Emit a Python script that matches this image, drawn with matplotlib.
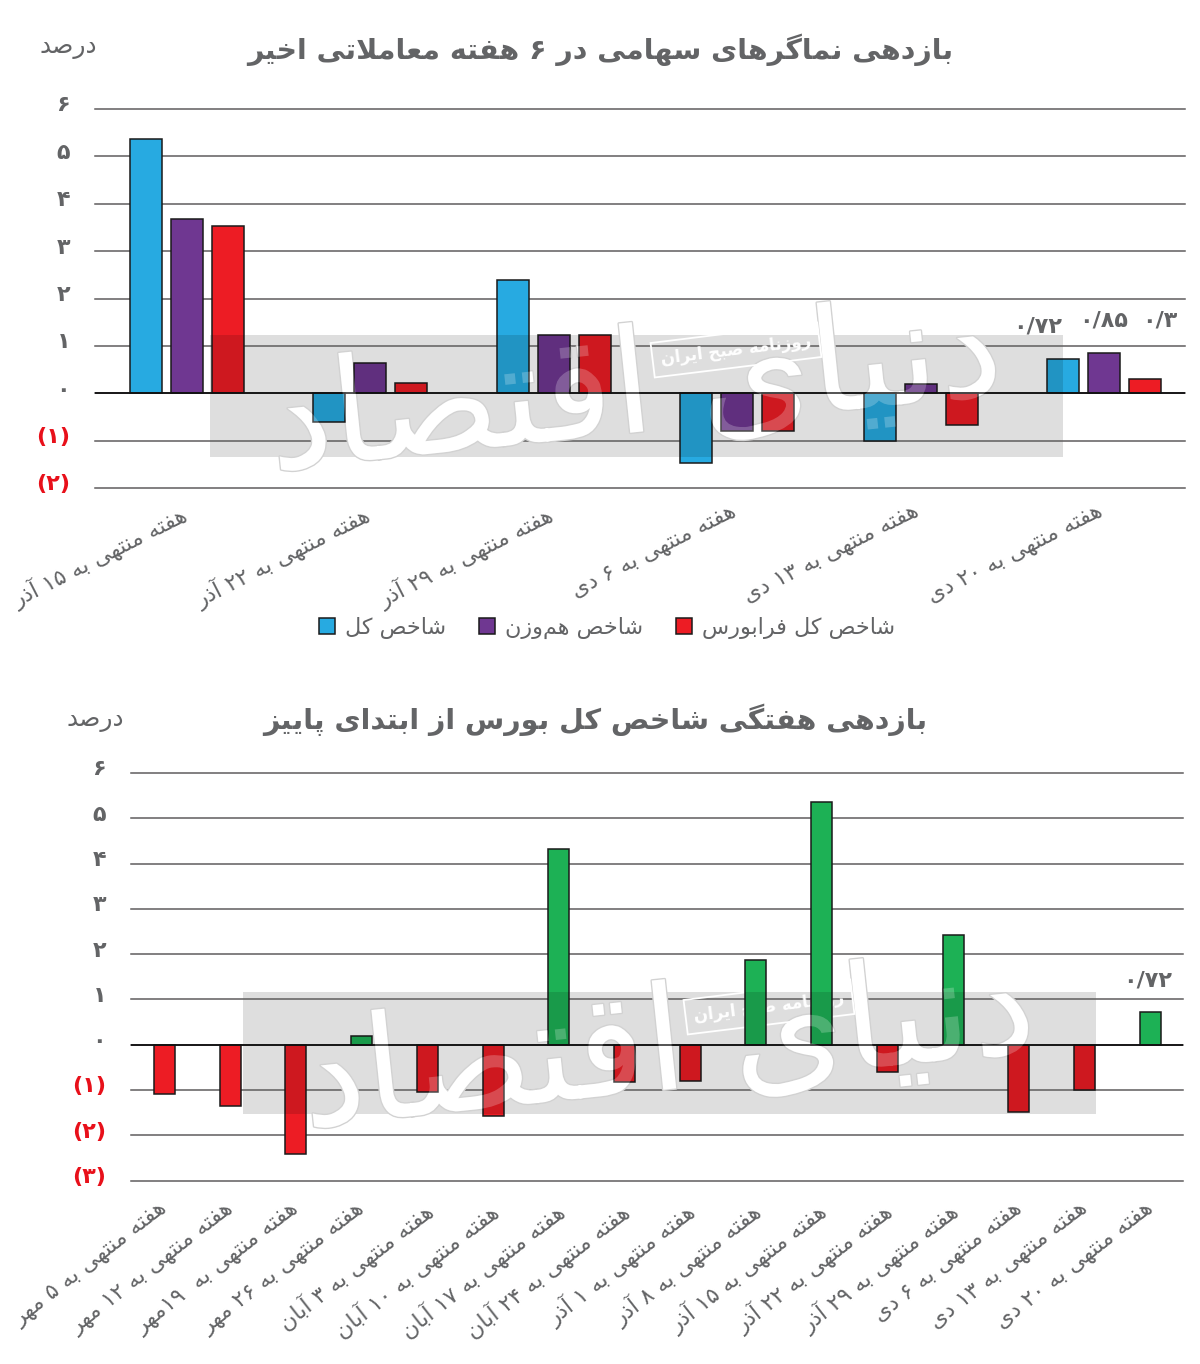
import re
import matplotlib
matplotlib.use('Agg')
import matplotlib.pyplot as plt
import matplotlib.patheffects as pe
from matplotlib.patches import Rectangle
from matplotlib.path import Path
from matplotlib.transforms import Affine2D, ScaledTranslation

W, H = 1200, 1364

# data
title_top = 'بازدهی نماگرهای سهامی در ۶ هفته معاملاتی اخیر'
title_bottom = 'بازدهی هفتگی شاخص کل بورس از ابتدای پاییز'
unit_label = 'درصد'
weeks_top = ['۱۵ آذر', '۲۲ آذر', '۲۹ آذر', '۶ دی', '۱۳ دی', '۲۰ دی']
total_index = [5.36, -0.61, 2.40, -1.48, -1.00, 0.72]
equal_index = [3.68, 0.63, 1.22, -0.80, 0.19, 0.85]
farabourse_index = [3.54, 0.21, 1.22, -0.80, -0.66, 0.30]
series_names = ['شاخص کل', 'شاخص هم\u200cوزن', 'شاخص کل فرابورس']
top_value_labels = ['۰/۷۲', '۰/۸۵', '۰/۳']

weeks_bottom = ['۵ مهر', '۱۲ مهر', ' ۱۹مهر', '۲۶ مهر', '۳ آبان', '۱۰ آبان', '۱۷ آبان', '۲۴ آبان',
                '۱ آذر', '۸ آذر', '۱۵ آذر', '۲۲ آذر', '۲۹ آذر', '۶ دی', '۱۳ دی', '۲۰ دی']
weekly_returns = [-1.10, -1.36, -2.42, 0.19, -1.05, -1.58, 4.32, -0.83,
                  -0.81, 1.87, 5.36, -0.60, 2.42, -1.49, -1.00, 0.72]
bottom_value_label = '۰/۷۲'

ticks_top = [-2, -1, 0, 1, 2, 3, 4, 5, 6]
ticks_bottom = [-3, -2, -1, 0, 1, 2, 3, 4, 5, 6]
tick_names = {-3: '(۳)', -2: '(۲)', -1: '(۱)', 0: '۰', 1: '۱', 2: '۲', 3: '۳', 4: '۴', 5: '۵', 6: '۶'}

GRAY = '#636466'
BLUE = '#27aae1'
PURPLE = '#6f3791'
RED = '#ed1c24'
GREEN = '#1db155'
TICK_RED = '#e8101a'

# matplotlib has no Arabic shaping, so pick the presentation forms by hand
DUAL = {'ب': 0xFE8F, 'پ': 0xFB56, 'ت': 0xFE95, 'ج': 0xFE9D, 'چ': 0xFB7A, 'ح': 0xFEA1, 'خ': 0xFEA5,
        'س': 0xFEB1, 'ش': 0xFEB5, 'ص': 0xFEB9, 'ع': 0xFEC9, 'ف': 0xFED1, 'ق': 0xFED5, 'ک': 0xFB8E,
        'گ': 0xFB92, 'ل': 0xFEDD, 'م': 0xFEE1, 'ن': 0xFEE5, 'ه': 0xFEE9, 'ی': 0xFBFC}
RIGHT = {'ا': 0xFE8D, 'آ': 0xFE81, 'د': 0xFEA9, 'ذ': 0xFEAB, 'ر': 0xFEAD, 'ز': 0xFEAF, 'و': 0xFEED}


def fa(text):
    out = []
    i = 0
    while i < len(text):
        c = text[i]
        prev = text[i - 1] if i > 0 else ''
        nxt = text[i + 1] if i + 1 < len(text) else ''
        joined_prev = prev in DUAL
        if c == 'ل' and nxt == 'ا':
            out.append(chr(0xFEFC if joined_prev else 0xFEFB))
            i += 2
            continue
        if c == '\u200c':
            i += 1
            continue
        if c in DUAL:
            joins_next = nxt in DUAL or nxt in RIGHT
            form = {(False, False): 0, (True, False): 1, (False, True): 2, (True, True): 3}[(joined_prev, joins_next)]
            out.append(chr(DUAL[c] + form))
        elif c in RIGHT:
            out.append(chr(RIGHT[c] + (1 if joined_prev else 0)))
        else:
            out.append(c)
        i += 1
    parts = re.findall(r'[۰-۹]+|.', ''.join(out))
    return ''.join(reversed(parts))


plt.rcParams['font.family'] = ['DejaVu Sans']
fig = plt.figure(figsize=(W / 100, H / 100), dpi=100)
# image pixels, y going down
px = Affine2D().scale(1, -1).translate(0, H)


def make_axes(left, right, top, bottom, ticks, xlim):
    ax = fig.add_axes([left / W, 1 - bottom / H, (right - left) / W, (bottom - top) / H])
    ax.set_ylim(ticks[0], ticks[-1])
    ax.set_xlim(*xlim)
    for s in ax.spines.values():
        s.set_visible(False)
    ax.set_axisbelow(True)
    ax.grid(axis='y', color='#5f5d5e', lw=1.1)
    for g in ax.get_ygridlines():
        g.set_clip_on(False)
    ax.axhline(0, color='#111111', lw=1.3, zorder=2.5)
    ax.set_yticks(ticks)
    ax.set_yticklabels([tick_names[t] for t in ticks], fontsize=16, fontweight='bold')
    ax.tick_params(axis='y', length=0, pad=18)
    ax.tick_params(axis='x', length=0)
    shift = ScaledTranslation(0, 4 / 72, fig.dpi_scale_trans)
    for t, lab in zip(ticks, ax.get_yticklabels()):
        lab.set_color(TICK_RED if t < 0 else GRAY)
        lab.set_transform(lab.get_transform() + shift)
    return ax


def shift_xlabels(ax, dx):
    shift = ScaledTranslation(dx / 100, 0, fig.dpi_scale_trans)
    for lab in ax.get_xticklabels():
        lab.set_transform(lab.get_transform() + shift)


def watermark(ax, bars, dx, dy):
    clip = Path.make_compound_path(*[b.get_path().transformed(b.get_patch_transform()) for b in bars])
    rect_args = dict(transform=px, clip_on=False, facecolor='black', edgecolor='none', alpha=0.13)
    ax.add_patch(Rectangle((210 + dx, 335 + dy), 853, 122, zorder=0.4, **rect_args))
    shade = Rectangle((210 + dx, 335 + dy), 853, 122, zorder=3, transform=px, facecolor='black',
                      edgecolor='none', alpha=0.13)
    ax.add_patch(shade)
    shade.set_clip_path(clip, ax.transData)
    name = fa('دنیای اقتصاد')
    opts = dict(transform=px, ha='center', va='center', rotation=6, fontsize=104)
    ax.text(635 + dx, 392 + dy, name, color='white', zorder=0.6, clip_on=False,
            path_effects=[pe.withStroke(linewidth=2, foreground='#d2d2d2')], **opts)
    over = ax.text(635 + dx, 392 + dy, name, color='white', alpha=0.22, zorder=3.1,
                   path_effects=[pe.Normal()], **opts)
    over.set_clip_path(clip, ax.transData)
    ax.text(736 + dx, 350 + dy, fa('روزنامه صبح ایران'), transform=px, ha='center', va='center', rotation=7,
            fontsize=12, fontweight='bold', color='white', zorder=0.7,
            bbox=dict(boxstyle='square,pad=0.5', facecolor='none', edgecolor='white', lw=1.3))


# top chart
ax1 = make_axes(95, 1185, 109, 488, ticks_top, (-0.5016, 5.4417))
x1 = list(range(len(weeks_top)))
step = 0.2236
bar_w = 0.1745
bars1 = []
series = [total_index, equal_index, farabourse_index]
for k, (vals, col, name) in enumerate(zip(series, [BLUE, PURPLE, RED], series_names)):
    bc = ax1.bar([x + (k - 1) * step for x in x1], vals, width=bar_w, color=col, edgecolor='#1a1a1a',
                 linewidth=1.1, zorder=2, label=fa(name))
    bars1 += list(bc)
watermark(ax1, bars1, 0, 0)
ax1.set_xticks(x1)
ax1.set_xticklabels([fa('هفته منتهی به ' + w) for w in weeks_top], rotation=27, ha='right', va='top',
                    rotation_mode='anchor', fontsize=16, color=GRAY)
ax1.tick_params(axis='x', pad=10)
shift_xlabels(ax1, -7)
leg = ax1.legend(ncols=3, frameon=False, loc='center', bbox_to_anchor=(607, 628), bbox_transform=px,
                 fontsize=16, labelcolor=GRAY, handlelength=0.7, handleheight=0.7, handletextpad=0.45,
                 columnspacing=1.5, borderpad=0, borderaxespad=0)

ax1.text(600, 50, fa(title_top), transform=px, ha='center', va='center', fontsize=20.5, fontweight='bold', color=GRAY)
ax1.text(68, 47, fa(unit_label), transform=px, ha='center', va='center', fontsize=18, color=GRAY)
for xp, yp, lab in zip([1038, 1104, 1160], [327, 320, 321], top_value_labels):
    ax1.text(xp, yp, lab, transform=px, ha='center', va='center', fontsize=16, color=GRAY, fontweight='bold')

# bottom chart
ax2 = make_axes(131, 1183, 773, 1180.5, ticks_bottom, (-0.51, 15.50))
x2 = list(range(len(weeks_bottom)))
colors2 = [GREEN if v > 0 else RED for v in weekly_returns]
bars2 = ax2.bar(x2, weekly_returns, width=0.32, color=colors2, edgecolor='#1a1a1a', linewidth=1.1, zorder=2)
watermark(ax2, list(bars2), 33, 657)
ax2.set_xticks(x2)
ax2.set_xticklabels([fa('هفته منتهی به ' + w) for w in weeks_bottom], rotation=38, ha='right', va='top',
                    rotation_mode='anchor', fontsize=16, color=GRAY)
ax2.tick_params(axis='x', pad=13)
shift_xlabels(ax2, -5)

ax2.text(595, 720, fa(title_bottom), transform=px, ha='center', va='center', fontsize=20.5, fontweight='bold', color=GRAY)
ax2.text(95, 720, fa(unit_label), transform=px, ha='center', va='center', fontsize=18, color=GRAY)
ax2.text(1148, 980, bottom_value_label, transform=px, ha='center', va='center', fontsize=16, color=GRAY, fontweight='bold')

fig.savefig('out.png', dpi=100)
